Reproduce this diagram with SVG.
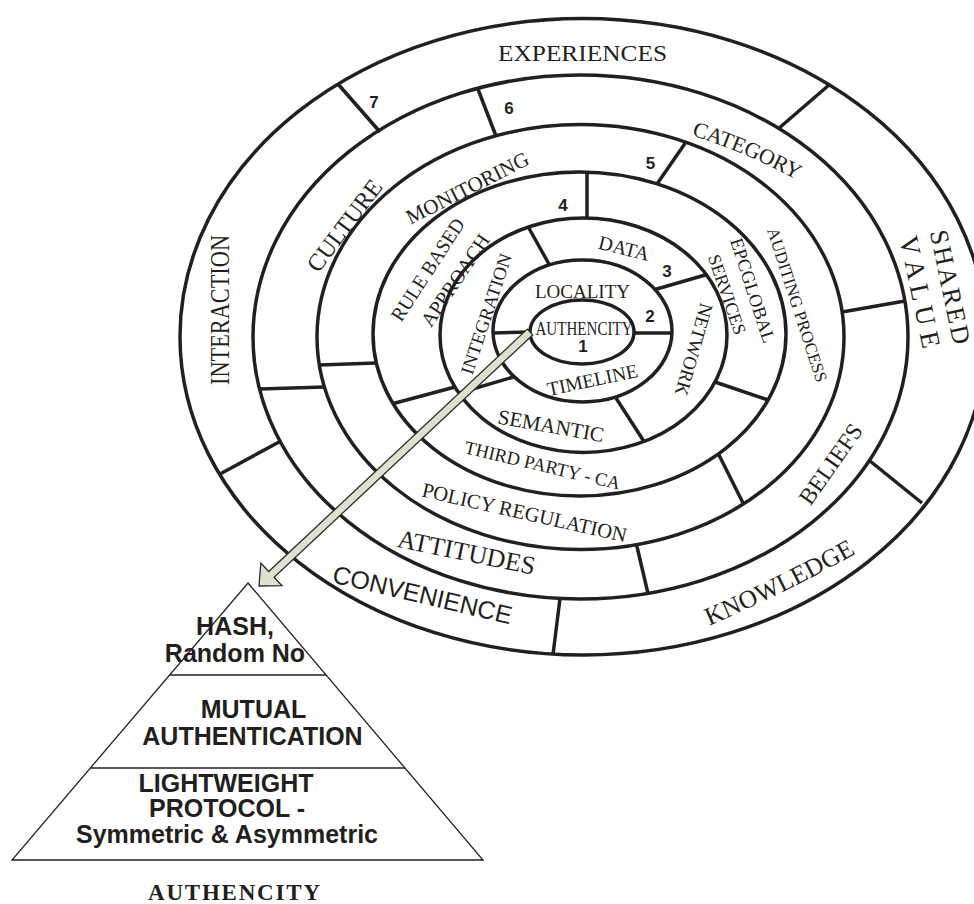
<svg xmlns="http://www.w3.org/2000/svg" width="974" height="904" viewBox="0 0 974 904">
<style>
.ring{fill:none;stroke:#231f20;stroke-width:3.5}
.div{stroke:#231f20;stroke-width:3.5;fill:none}
.lbl{font-family:"Liberation Serif","Times New Roman",serif;fill:#231f20;text-anchor:middle;dominant-baseline:central}
.num{font-family:"Liberation Sans",Arial,sans-serif;font-weight:bold;font-size:17px;fill:#231f20;text-anchor:middle;dominant-baseline:central}
.san{font-family:"Liberation Sans",Arial,sans-serif;fill:#231f20;text-anchor:middle;dominant-baseline:central}
.pyr{font-family:"Liberation Sans",Arial,sans-serif;font-weight:bold;font-size:25px;fill:#231f20;text-anchor:middle}
</style>
<defs>
<path id="pCat" d="M682,124 Q750,144 811.5,179"/>
<path id="pKnow" d="M695.7,621.5 Q781,586.3 861,540.2"/>
</defs>
<rect width="974" height="904" fill="#ffffff"/>
<g id="rings">
<ellipse class="ring" cx="583" cy="336.75" rx="403" ry="318.25"/>
<ellipse class="ring" cx="580.5" cy="337" rx="327.5" ry="262"/>
<ellipse class="ring" cx="580.5" cy="337" rx="263.5" ry="212.5"/>
<ellipse class="ring" cx="579.5" cy="334" rx="206.5" ry="162"/>
<ellipse class="ring" cx="583.5" cy="335.2" rx="143.5" ry="117.2"/>
<ellipse class="ring" cx="582.5" cy="331" rx="89.5" ry="71"/>
<ellipse class="ring" cx="582" cy="332" rx="52" ry="32"/>
</g>
<g id="dividers">
<line class="div" x1="338" y1="84" x2="380" y2="132"/>
<line class="div" x1="829" y1="85" x2="778" y2="129"/>
<line class="div" x1="922" y1="503" x2="870" y2="461"/>
<line class="div" x1="560" y1="598.5" x2="553" y2="654.5"/>
<line class="div" x1="220" y1="474" x2="280" y2="441.5"/>
<line class="div" x1="477.5" y1="88" x2="496" y2="136"/>
<line class="div" x1="905" y1="301" x2="842" y2="312"/>
<line class="div" x1="636.5" y1="544.5" x2="648" y2="593.5"/>
<line class="div" x1="259.5" y1="389" x2="324.5" y2="387"/>
<line class="div" x1="686" y1="142" x2="657" y2="184"/>
<line class="div" x1="718" y1="453" x2="743.5" y2="504"/>
<line class="div" x1="319" y1="365" x2="376" y2="363"/>
<line class="div" x1="587" y1="172" x2="587" y2="218"/>
<line class="div" x1="768" y1="400" x2="715" y2="382"/>
<line class="div" x1="393.5" y1="403.5" x2="455" y2="387"/>
<line class="div" x1="528" y1="226.5" x2="549.5" y2="265"/>
<line class="div" x1="655" y1="289.5" x2="707" y2="274.5"/>
<line class="div" x1="615" y1="396.5" x2="644" y2="441.5"/>
<line class="div" x1="459" y1="393" x2="513.5" y2="377"/>
<line class="div" x1="493" y1="333" x2="530" y2="332"/>
<line class="div" x1="634" y1="333" x2="672" y2="333"/>
</g>
<g id="ring-labels">
<text class="lbl" font-size="24" textLength="169" lengthAdjust="spacingAndGlyphs" transform="translate(582.5,53)">EXPERIENCES</text>
<text class="lbl" font-size="28" textLength="150" lengthAdjust="spacingAndGlyphs" transform="translate(219,310) rotate(-90)">INTERACTION</text>
<text class="lbl" font-size="26" textLength="116" transform="translate(950,287) rotate(78)">SHARED</text>
<text class="lbl" font-size="27" transform="translate(920,292) rotate(78)">V A L U E</text>
<text class="lbl" font-size="25.5"><textPath href="#pKnow" startOffset="50%">KNOWLEDGE</textPath></text>
<text class="san" font-size="25" transform="translate(422.5,594.5) rotate(13.3)">CONVENIENCE</text>
<text class="lbl" font-size="22"><textPath href="#pCat" startOffset="50%">CATEGORY</textPath></text>
<text class="lbl" font-size="23.5" transform="translate(830.5,464) rotate(-55)">BELIEFS</text>
<text class="lbl" font-size="26" transform="translate(466.5,552.5) rotate(11.5)">ATTITUDES</text>
<text class="lbl" font-size="24" transform="translate(344.5,225.5) rotate(-53)">CULTURE</text>
<text class="lbl" font-size="21" transform="translate(467.5,188) rotate(-27)">MONITORING</text>
<text class="lbl" font-size="17" transform="translate(797,305) rotate(72)">AUDITING PROCESS</text>
<text class="lbl" font-size="20.6" transform="translate(524.5,512.5) rotate(12.7)">POLICY REGULATION</text>
<text class="lbl" font-size="20" textLength="118" lengthAdjust="spacingAndGlyphs" transform="translate(427.5,269.5) rotate(-57)">RULE BASED</text>
<text class="lbl" font-size="20" transform="translate(455,280) rotate(-56)">APPROACH</text>
<text class="lbl" font-size="18.5" transform="translate(752.5,290.5) rotate(72)">EPCGLOBAL</text>
<text class="lbl" font-size="18" transform="translate(727,294.5) rotate(71)">SERVICES</text>
<text class="lbl" font-size="18.5" transform="translate(542.5,465.5) rotate(13.3)">THIRD PARTY - CA</text>
<text class="lbl" font-size="20" transform="translate(624,248) rotate(14)">DATA</text>
<text class="lbl" font-size="19" transform="translate(694,349.5) rotate(106)">NETWORK</text>
<text class="lbl" font-size="21" transform="translate(551,426) rotate(10)">SEMANTIC</text>
<text class="lbl" font-size="18.5" textLength="126" lengthAdjust="spacingAndGlyphs" transform="translate(486.5,314) rotate(-71.5)">INTEGRATION</text>
<text class="lbl" font-size="19.5" textLength="95" lengthAdjust="spacingAndGlyphs" transform="translate(582.5,291.5)">LOCALITY</text>
<text class="lbl" font-size="19.5" transform="translate(592.5,380) rotate(-12)">TIMELINE</text>
<text class="lbl" font-size="18" textLength="97" lengthAdjust="spacingAndGlyphs" transform="translate(584,328.5)">AUTHENCITY</text>
</g>
<g id="ring-numbers">
<text class="num" x="583" y="346">1</text>
<text class="num" x="650" y="316">2</text>
<text class="num" x="667" y="271">3</text>
<text class="num" x="563" y="205">4</text>
<text class="num" x="650.5" y="163">5</text>
<text class="num" x="509" y="108.5">6</text>
<text class="num" x="374" y="102">7</text>
</g>
<g id="connectors">
<polygon points="527.3,329.1 268.7,571.5 260.8,563.1 259,586 282,585.7 274.1,577.3 532.7,334.9" fill="#dce2cd" stroke="#2b2b2b" stroke-width="1.3" stroke-linejoin="miter"/>
</g>
<g id="pyramid">
<polygon points="248,583 483,860 12,860" fill="none" stroke="#231f20" stroke-width="1.3"/>
<line x1="169.6" y1="675" x2="326" y2="675" stroke="#231f20" stroke-width="1.3"/>
<line x1="90.4" y1="768" x2="405" y2="768" stroke="#231f20" stroke-width="1.3"/>
<text class="pyr" x="235" y="635">HASH,</text>
<text class="pyr" x="235" y="662">Random No</text>
<text class="pyr" x="253.5" y="718">MUTUAL</text>
<text class="pyr" x="252.5" y="745">AUTHENTICATION</text>
<text class="pyr" x="226" y="792">LIGHTWEIGHT</text>
<text class="pyr" x="227" y="817">PROTOCOL -</text>
<text class="pyr" x="227" y="843">Symmetric &amp; Asymmetric</text>
<text x="234" y="900" font-family="'Liberation Serif','Times New Roman',serif" font-weight="bold" font-size="23" fill="#231f20" text-anchor="middle" textLength="172">AUTHENCITY</text>
</g>
</svg>
